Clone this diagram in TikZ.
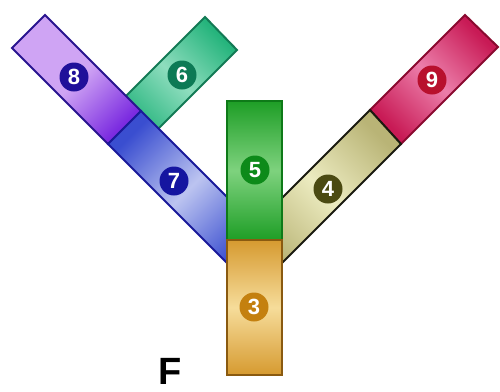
\documentclass[tikz,border=0pt]{standalone}
\usepackage{fontspec}
\setmainfont{Liberation Sans}
\definecolor{c8}{HTML}{7B2BE0}\definecolor{c8l}{HTML}{CFA4F4}\definecolor{c8d}{HTML}{2A1590}\definecolor{c8n}{HTML}{20109A}
\definecolor{c7}{HTML}{3A4ED0}\definecolor{c7l}{HTML}{BCC4F0}\definecolor{c7d}{HTML}{1A1A9A}\definecolor{c7n}{HTML}{1515A0}
\definecolor{c6}{HTML}{25B47C}\definecolor{c6l}{HTML}{8EDDBE}\definecolor{c6d}{HTML}{137A55}\definecolor{c6n}{HTML}{0C7A55}
\definecolor{c5}{HTML}{1E9E26}\definecolor{c5l}{HTML}{7ED27E}\definecolor{c5d}{HTML}{0E7A18}\definecolor{c5n}{HTML}{0D8A1A}
\definecolor{c3}{HTML}{D69A30}\definecolor{c3l}{HTML}{F6DC9A}\definecolor{c3d}{HTML}{8A5A10}\definecolor{c3n}{HTML}{C4800F}
\definecolor{c4}{HTML}{B9B476}\definecolor{c4l}{HTML}{ECEBC0}\definecolor{c4d}{HTML}{1A1A10}\definecolor{c4n}{HTML}{4B4A12}
\definecolor{c9}{HTML}{C81A55}\definecolor{c9l}{HTML}{EC7EAA}\definecolor{c9d}{HTML}{8A0A30}\definecolor{c9n}{HTML}{B8102D}
\begin{document}
\begin{tikzpicture}[x=1pt,y=-1pt,
  bar/.style={line width=2pt, line join=miter},
  num/.style={circle, inner sep=0pt, minimum size=29pt, text=white,
    font=\bfseries\fontsize{22}{22}\selectfont},
]
\useasboundingbox (0,0) rectangle (500,391);
% bar 6
\draw[bar, draw=c6d, top color=c6, bottom color=c6, middle color=c6l, shading angle=-45]
  (205,17) -- (237,50) -- (148,139) -- (115,107) -- cycle;
% bar 8
\draw[bar, draw=c8d, top color=c8l, bottom color=c8, middle color=c8l, shading angle=45]
  (12,48) -- (45,15) -- (141,111) -- (108,144) -- cycle;
% bar 7
\draw[bar, draw=c7d, top color=c7, bottom color=c7, middle color=c7l, shading angle=45]
  (108,144) -- (141,111) -- (250,220) -- (250,286) -- cycle;
% bar 9
\draw[bar, draw=c9d, top color=c9, bottom color=c9, middle color=c9l, shading angle=-45]
  (465,15) -- (498,47) -- (401,144) -- (370,110) -- cycle;
% bar 4
\draw[bar, draw=c4d, top color=c4, bottom color=c4, middle color=c4l, shading angle=-45]
  (370,110) -- (401,144) -- (259,286) -- (259,221) -- cycle;
% box 5
\draw[bar, draw=c5d, top color=c5, bottom color=c5, middle color=c5l]
  (227,101) rectangle (282,240);
% box 3
\draw[bar, draw=c3d, top color=c3, bottom color=c3, middle color=c3l]
  (227,240) rectangle (282,375);
% numbers
\node[num, fill=c8n] (n8) at (74,77) {8};
\node[num, fill=c7n] (n7) at (174,181) {7};
\node[num, fill=c6n] (n6) at (182,75) {6};
\node[num, fill=c5n] (n5) at (255,170) {5};
\node[num, fill=c3n] (n3) at (254,307) {3};
\node[num, fill=c4n] (n4) at (328,189) {4};
\node[num, fill=c9n] (n9) at (432,80) {9};
\node[anchor=base west, inner sep=0pt, font=\bfseries\fontsize{38}{38}\selectfont] (F) at (158,384) {F};
\end{tikzpicture}
\end{document}
